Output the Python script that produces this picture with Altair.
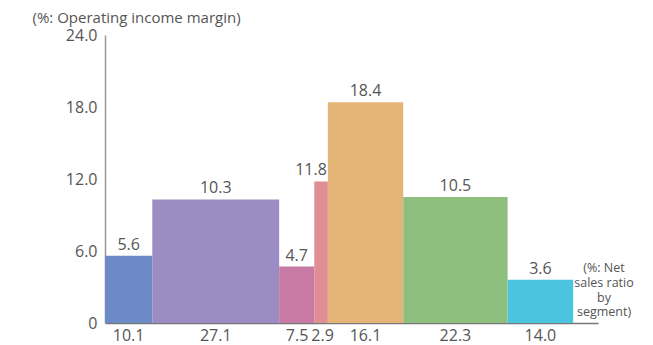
import altair as alt
import pandas as pd

segments = ["S1", "S2", "S3", "S4", "S5", "S6", "S7"]
sales_ratio = [10.1, 27.1, 7.5, 2.9, 16.1, 22.3, 14.0]
margin = [5.6, 10.3, 4.7, 11.8, 18.4, 10.5, 3.6]
colors = ["#6b8ac6", "#9b8cc3", "#c77aa3", "#e08e94", "#e4b576", "#8fbf7e", "#4bc4e0"]

x0, x1 = [], []
acc = 0.0
for w in sales_ratio:
    x0.append(acc)
    acc += w
    x1.append(acc)

df = pd.DataFrame({
    "seg": segments,
    "ratio": sales_ratio,
    "margin": margin,
    "x0": x0,
    "x1": x1,
    "xc": [(a + b) / 2 for a, b in zip(x0, x1)],
    "zero": [0] * len(segments),
})

W, H = 493, 288
FONT = "Open Sans"
TXT = "#555"
xs = alt.Scale(domain=[0, 105.3], nice=False, zero=True)
ys = alt.Scale(domain=[0, 24], nice=False)

base = alt.Chart(df)

bars = base.mark_rect().encode(
    x=alt.X("x0:Q", scale=xs, axis=alt.Axis(labels=False, ticks=False, grid=False, title=None,
                                              domainColor="#777", domainWidth=1.5)),
    x2="x1:Q",
    y=alt.Y("zero:Q", scale=ys, axis=alt.Axis(
        values=[0, 6, 12, 18, 24], ticks=False, grid=False, domainColor="#999", domainWidth=1.5,
        labelExpr="datum.value == 0 ? '0' : format(datum.value, '.1f')",
        labelFont=FONT, labelFontSize=16, labelColor=TXT, labelPadding=8,
        title="(%: Operating income margin)", titleAngle=0, titleAlign="left",
        titleBaseline="alphabetic", titleX=-73, titleY=-13, titleFont=FONT,
        titleFontSize=15, titleFontWeight="normal", titleColor=TXT)),
    y2="margin:Q",
    color=alt.Color("seg:N", scale=alt.Scale(domain=segments, range=colors), legend=None),
)

top_labels = base.transform_filter("datum.seg != 'S4'").mark_text(
    font=FONT, fontSize=16, color=TXT, baseline="alphabetic", dy=-6, align="center"
).encode(x=alt.X("xc:Q", scale=xs), y=alt.Y("margin:Q", scale=ys), text=alt.Text("margin:Q", format=".1f"))

top_label_s4 = base.transform_filter("datum.seg == 'S4'").mark_text(
    font=FONT, fontSize=16, color=TXT, baseline="alphabetic", dy=-6, align="right", dx=-1
).encode(x=alt.X("x1:Q", scale=xs), y=alt.Y("margin:Q", scale=ys), text=alt.Text("margin:Q", format=".1f"))

bottom_labels = base.transform_filter("datum.seg != 'S3' && datum.seg != 'S4'").mark_text(
    font=FONT, fontSize=16, color=TXT, baseline="middle", align="center"
).encode(x=alt.X("xc:Q", scale=xs), y=alt.value(H + 13), text=alt.Text("ratio:Q", format=".1f"))

bottom_s3 = base.transform_filter("datum.seg == 'S3'").mark_text(
    font=FONT, fontSize=16, color=TXT, baseline="middle", align="right", dx=-6
).encode(x=alt.X("x1:Q", scale=xs), y=alt.value(H + 13), text=alt.Text("ratio:Q", format=".1f"))

bottom_s4 = base.transform_filter("datum.seg == 'S4'").mark_text(
    font=FONT, fontSize=16, color=TXT, baseline="middle", align="left", dx=-3
).encode(x=alt.X("x0:Q", scale=xs), y=alt.value(H + 13), text=alt.Text("ratio:Q", format=".1f"))

note = alt.Chart(pd.DataFrame({"t": [["(%: Net", "sales ratio", "by", "segment)"]]})).mark_text(
    font=FONT, fontSize=12.5, color=TXT, align="center", baseline="top", lineHeight=14.8
).encode(x=alt.value(499), y=alt.value(227), text="t")

chart = alt.layer(bars, top_labels, top_label_s4, bottom_labels, bottom_s3, bottom_s4, note).properties(
    width=W, height=H,
    autosize=alt.AutoSizeParams(type="none"),
    padding={"left": 97, "top": 27, "right": 40, "bottom": 22},
).configure_view(stroke=None)

chart.save("out.html", embed_options={"renderer": "svg", "actions": False})
